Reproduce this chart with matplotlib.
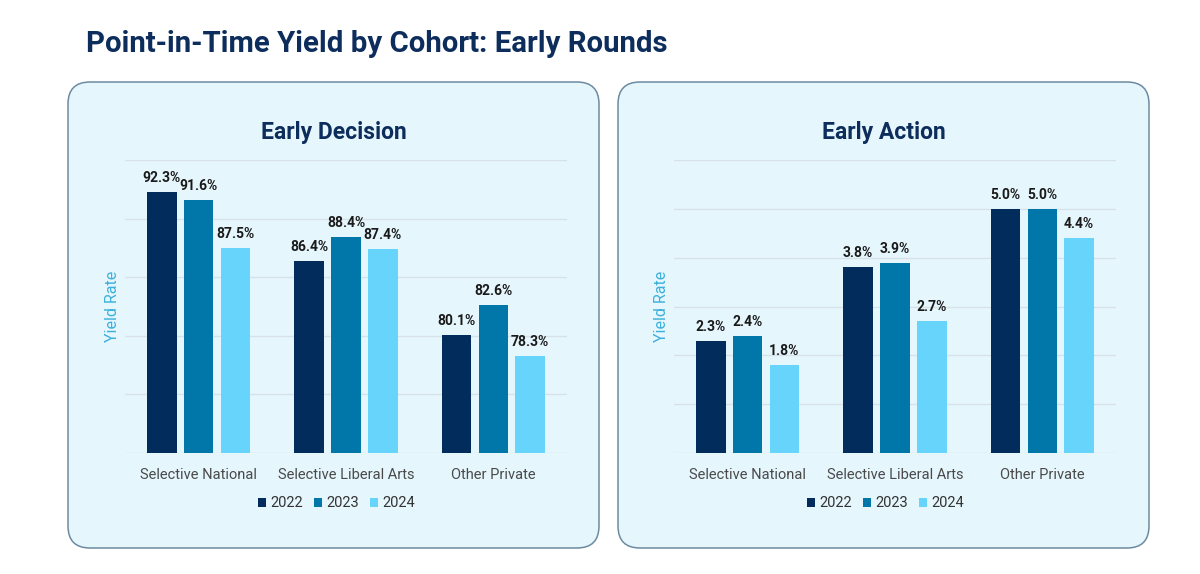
import matplotlib.pyplot as plt
import numpy as np
from matplotlib.patches import FancyBboxPatch

plt.rcParams["font.family"] = ["Roboto", "DejaVu Sans"]

# Data
categories = ["Selective National", "Selective Liberal Arts", "Other Private"]
years = ["2022", "2023", "2024"]
early_decision = {
    "2022": [92.3, 86.4, 80.1],
    "2023": [91.6, 88.4, 82.6],
    "2024": [87.5, 87.4, 78.3],
}
early_action = {
    "2022": [2.3, 3.8, 5.0],
    "2023": [2.4, 3.9, 5.0],
    "2024": [1.8, 2.7, 4.4],
}

colors = {"2022": "#012c5b", "2023": "#0077a8", "2024": "#66d4fb"}
navy = "#0d2d5c"
box_fill = "#e5f6fd"
box_edge = "#6d8ba0"
grid_col = "#d6e2e8"

W, H = 1200, 574
fig = plt.figure(figsize=(W / 100, H / 100), dpi=100)
fig.patch.set_facecolor("white")

# background canvas in pixel coordinates
bg = fig.add_axes([0, 0, 1, 1], zorder=0)
bg.set_xlim(0, W)
bg.set_ylim(H, 0)
bg.axis("off")

bg.text(86, 44, "Point-in-Time Yield by Cohort: Early Rounds", fontsize=21.2,
        fontweight="bold", color=navy, ha="left", va="center")

panels = [
    (68, "Early Decision", early_decision, (70, 95), 5, 125),
    (618, "Early Action", early_action, (0, 6), 1, 674),
]

x = np.arange(len(categories))
bw = 0.2
offsets = [-0.25, 0.0, 0.25]

for box_x, title, data, ylim, step, ax_left in panels:
    box = FancyBboxPatch((box_x, 82), 531, 466,
                         boxstyle="round,pad=0,rounding_size=22",
                         facecolor=box_fill, edgecolor=box_edge, linewidth=1.1)
    bg.add_patch(box)
    bg.text(box_x + 265.5, 132, title, fontsize=16.5, fontweight="bold",
            color=navy, ha="center", va="center")

    ax = fig.add_axes([ax_left / W, 1 - 453 / H, 442 / W, 293 / H], zorder=1)
    ax.set_facecolor("none")
    for yr, off in zip(years, offsets):
        vals = data[yr]
        bars = ax.bar(x + off, vals, width=bw, color=colors[yr], label=yr,
                      zorder=3)
        for b, v in zip(bars, vals):
            ax.annotate(f"{v:.1f}%", (b.get_x() + b.get_width() / 2, v),
                        xytext=(0, 5), textcoords="offset points",
                        ha="center", va="bottom", fontsize=10,
                        fontweight="bold", color="#1a1a1a", zorder=4)

    ax.set_ylim(*ylim)
    ax.set_xlim(-0.5, 2.5)
    ax.set_yticks(np.arange(ylim[0], ylim[1] + step / 2, step))
    ax.set_yticklabels([])
    ax.tick_params(axis="y", length=0)
    ax.tick_params(axis="x", length=0, pad=11, labelsize=10.5,
                   labelcolor="#4a4a4a")
    ax.set_xticks(x)
    ax.set_xticklabels(categories)
    ax.grid(axis="y", color=grid_col, linewidth=1.0, zorder=0)
    ax.set_axisbelow(True)
    for s in ax.spines.values():
        s.set_visible(False)
    ax.set_ylabel("Yield Rate", color="#3cb0dc", fontsize=11.5, labelpad=0)

    leg = ax.legend(loc="center", bbox_to_anchor=(0.478, -0.172), ncol=3,
                    frameon=False, fontsize=10.5, handlelength=0.55,
                    handleheight=0.55, handletextpad=0.3, columnspacing=0.75)
    for t in leg.get_texts():
        t.set_color("#333333")

fig.savefig("out.png", dpi=100)
